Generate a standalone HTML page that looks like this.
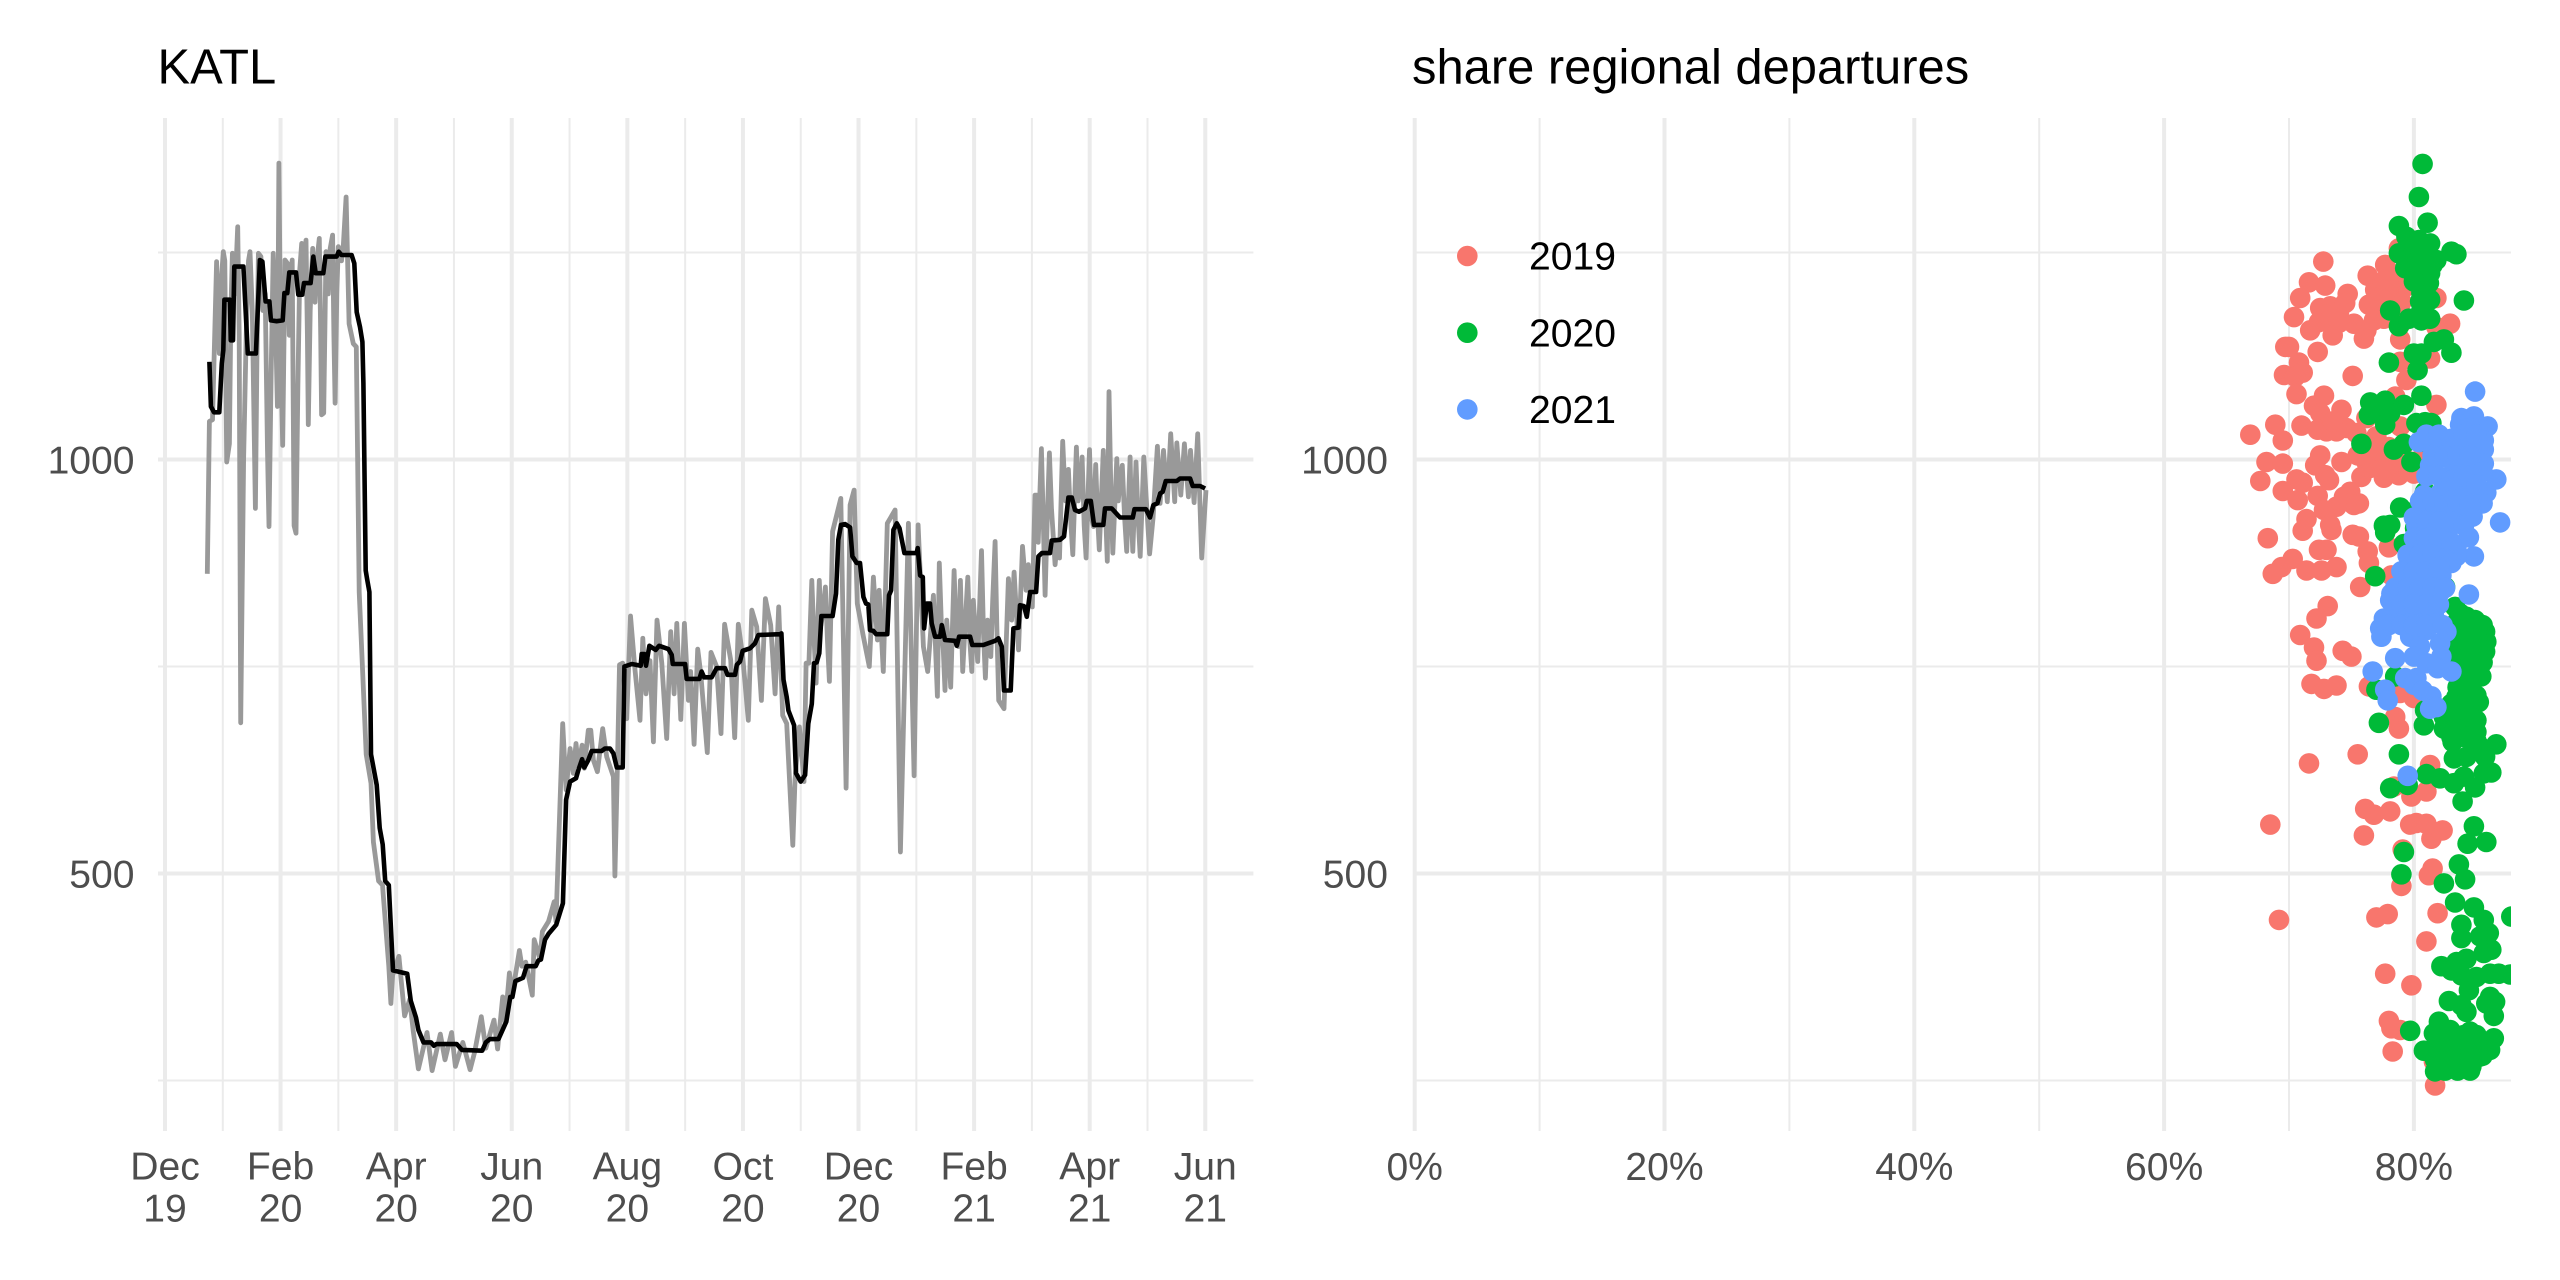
<!DOCTYPE html>
<html lang="en">
<head>
<meta charset="utf-8">
<title>KATL departures and share of regional departures</title>
<style>
html,body{margin:0;padding:0;background:#fff;width:2560px;height:1280px;overflow:hidden}
svg{display:block;font-family:"Liberation Sans",Arial,sans-serif}
</style>
</head>
<body>
<svg id="chart" xmlns="http://www.w3.org/2000/svg" width="2560" height="1280" viewBox="0 0 2560 1280">
<defs><clipPath id="right-clip"><rect x="1414" y="118" width="1097" height="1013"/></clipPath></defs>
<rect x="0" y="0" width="2560" height="1280" fill="#fff"/>
<g id="left-panel"></g>
<g id="right-panel"></g>
</svg>
<script>
const tickMonths = ['Dec','Feb','Apr','Jun','Aug','Oct','Dec','Feb','Apr','Jun'];
const tickYears = ['19','20','20','20','20','20','20','21','21','21'];
const yMajorTicks = [500,1000];
const yMinorTicks = [250,750,1250];
const shareMajorTicks = [0,20,40,60,80];
const shareMinorTicks = [10,30,50,70];
const legendYears = ['2019','2020','2021'];

const grayDaysWinter = [22.3,23.4,25,27.2,27.9,28.6,29.6,30.7,31.5,32.5,33.9,34.7,35.5,36.8,38.3,39.1,39.9,41.4,42.8,44,44.8,46,47.6,48.4,49.2,50.5,51.5,52.8,54,54.8,55.9,57,58,59.2,60,61,62,63.2,64.5,65.5,66.2,67,68,69,70,71,72,73,74.3,75,75.5,76.5,77.8,79,80,81.3,82,82.5,83.6,84.8,86,87,88.3,89,89.6,90.5,91.3,93,94,95.4];
const grayValuesWinter = [862,1046,1048,1239,1170,1128,1215,1251,1240,997,1019,1180,1249,1200,1281,1150,682,1000,1150,1240,1251,1180,941,1120,1249,1245,1180,1200,1010,919,1100,1249,1190,1064,1358,1120,1017,1241,1237,1150,1220,1241,920,911,1090,1230,1261,1200,1265,1150,1042,1180,1255,1190,1240,1267,1150,1054,1056,1251,1200,1255,1271,1150,1068,1200,1257,1240,1260,1317];

const grayDaysMiddle = [97,99.2,100.8,102.3,106,108.5,109.8,112.5,114.6,117.9,119,119.9,123.2,126.2,128.9,130.8,133.5,138,140.7,145,147.5,151,153,156.9,160.7,163.1,166.6,169,173.3,175.2,177.9,179.2,181.4,183,186.7,188,190,193.5,194.5,197.5,198.8,202,205,206,209.5,211.3,213.4,215.1,216.5,217.8,219.7,220.9,223,224.3,225.7,227.8,230.6,232.7,236.2,237,238.3,239.4,241.1,243.2,245.2,247.6,250.2,251.7,253.4,255.5,257.3,259.2,261.7,264.3,266.4,268.2,269.6,271.7,273.6,275.7,276.9,278.7,280.6,282.2,285.7,287.6,290.6,292.9,294.8,298,300.1,302,304.3,307.3,309.1,311.7,314.2,316.3,319.1,321.4,323.3,325.4,327.5,330.7,331.9,334.2,336.6,337.7,339.2];
const grayValuesMiddle = [1164,1140,1136,840,644,609,538,491,486,388,343,377,400,328,348,309,264,308,262,306,275,308,267,296,263,284,327,289,323,288,351,321,380,355,407,388,393,353,420,397,430,442,466,442,681,601,651,621,657,629,655,627,673,673,637,623,675,641,617,497,629,752,754,687,811,746,685,784,717,757,659,806,754,663,792,717,802,686,802,709,744,656,771,742,646,767,750,669,801,758,664,801,762,685,818,798,709,832,800,717,822,691,681,534,613,677,611,754,754];

const grayDaysAutumn = [340.7,341.8,343,344,344.7,345.5,346.5,347.9,349,350,351.7,356,358.8,360.9,363,364.7,367.9,371,373.2,375.3,376.2,378.4,380.5,384.6,387.4,391.6,394.6,396.7,399.5,401.8,404.8];
const grayValuesAutumn = [854,790,730,810,854,800,814,846,780,732,913,953,603,945,963,826,786,750,858,782,842,744,923,939,526,923,618,921,774,744,836];

const grayDaysSpring = [405.8,406.9,407.9,409,410,410.9,411.8,412.8,413.9,415.7,416.8,418,419,420.2,421.5,422.9,424,425,425.8,427,428.1,430.1,431.2,432.2,433.3,435,436,437.3,438.2,439.2,442,444.3,446,447.3,449.6,451.7,453.6,454.8,456.9];
const grayValuesSpring = [780,714,875,800,770,721,806,770,725,866,790,774,854,744,800,858,780,744,830,790,756,890,790,736,806,762,830,901,800,709,699,856,806,864,770,895,842,873,822];

const grayDaysFinal = [458.3,459.2,460,461.7,462.6,463.6,464.8,465.9,467,468.9,470,471.2,472.9,474.3,475.9,477,478.2,480.1,481,482,483.1,484.2,485.2,487,488,489.1,490.3,491.3,492.2,494.3,495.3,496.4,497.3,498.3,499.3,501.4,502.2,503.1,504.3,505.5,506.6,508.4,509.1,509.8,511.5,512.6,513.7,515.6,517,518.7,520.5,522.8,524.2,526,528,529.8,531.9,533,535.1,537,539.1,540.2,542.1,544,546.1,548.4];
const grayValuesFinal = [957,957,900,1013,930,836,930,1008,940,873,900,881,1022,950,988,930,885,1015,950,963,1003,920,881,1012,930,919,994,930,891,1011,950,877,1082,960,887,1001,950,975,993,930,889,1003,930,889,997,930,883,1003,950,886,930,1016,947,1011,949,1031,949,1020,957,1019,955,1011,948,1031,881,963];

const blackDays = [23.4,24.2,25.8,28.6,29.9,30.7,31.3,34.2,34.6,35.8,36.5,41.3,43.6,47.9,50,51.3,53,55,55.8,58.8,62,62.9,64.4,65.5,69,70.2,72.3,73.2,76.7,78.1,79.4,83.4,84.5,90.4,91.5,93,98.3,99.7,101,102.7,104,104.5,105.7,106.5,107.7,108.5,111.5,113.1,114.7,116,117.9,120.1,127.6,129.5,132.2,133.5,136.2,140.2,141.6,142.9,153.7,156.4,167.1,169,171.1,175.7,179.8,181.9,183,184.6,188.6,190.5,195.3,196.7,198,200.2,202,206.1,209.6,211.3,213.4,216.5,217.8,219.7,220.9,223,224.8,230,231.8,234.4,236.2,238,241.1,242,245.9,250.6,251.1,252.5,253.4,255.2,258.5,260.3,265.2,266.9,267.5,274,274.8,281.5,282.7,284,288,290.6,295,296.3,300.3,301.2,302.9,304.3,308.2,310.8,312.6,324,324.7,325.8,327.5,328.4,331.4,332.4,334.9,337.2,338.9,340.7,341.9,343.3,344.7,345.8,351.7,353.5,354.7,356.1,358.2,360.9,362.1,364.4,366.1,367.9,369.3,370.5,371.4,373.2,374.6,380.5,381.4,382.5,383.7,385.5,386.9,389.5,396,396.5,397.8,399.2,399.9,401.3,403,403.9,405.7,408.3,409.2,410.9,416.2,417.1,418.3,424.1,425.3,431.1,437.3,439,440.8,442,445.5,446.9,449.6,450.4,452.5,454,455.7,458.9,460.1,461.9,466.2,467.1,471.5,473.6,475.9,477.7,479.4,481.5,484.7,485.6,487.7,489.4,494.3,495.2,498.7,503.1,509.8,510.7,516.8,518.9,520.7,522.8,524.2,525.6,527.2,533,534.7,540,541.4,545.3,547.9];
const blackValues = [1118,1064,1057,1057,1116,1132,1193,1193,1144,1144,1233,1233,1128,1128,1241,1239,1191,1191,1168,1167,1168,1201,1201,1226,1226,1199,1199,1213,1213,1245,1225,1225,1245,1245,1251,1247,1247,1237,1178,1160,1142,1092,866,855,840,644,607,555,535,491,486,383,379,346,326,311,296,296,292,294,294,287,286,296,300,300,321,351,351,370,374,388,388,395,396,420,427,438,464,589,611,615,625,638,628,637,648,648,651,651,645,628,628,750,753,751,765,765,751,775,770,775,771,764,753,753,735,735,744,737,737,748,748,740,740,752,756,769,772,778,788,789,790,734,713,697,679,621,611,619,681,705,754,755,766,811,811,838,903,921,922,918,883,875,875,834,826,825,794,793,789,789,836,842,915,923,917,887,887,893,860,858,796,826,826,802,786,786,800,782,781,775,786,786,776,776,781,784,774,721,721,796,797,824,823,810,840,840,883,887,887,902,903,907,954,954,939,937,941,950,950,921,921,941,941,930,930,940,940,930,945,947,959,961,974,974,977,977,968,968,965];

const share2019 = [72.75,71.6,72.9,70.9,70.4,71.7,72.4,73.2,72.5,73.3,74,74.7,74.5,75.2,76,76.2,76.3,77.7,78.8,76.9,76.4,76.8,77.6,78.3,79.4,78.9,81.8,82.9,81.8,78.9,81.3,69.7,70,72.3,70.8,69.6,71.1,70.5,70.6,75.1,79.4,78.9,81.8,78.5,72.8,72,74.2,72.5,68.9,66.9,69.5,71,72.3,73,73.8,74.6,73.5,75.4,76.2,77,78.9,77.3,68.2,69.5,67.7,72.5,72.1,74.2,76.2,72.9,73.2,70.6,71.1,69.5,70.7,72.3,75.8,77.6,78.8,80,74.9,74.4,75.6,75.2,73.8,72.8,71.4,71.1,73.4,73.3,68.3,75.1,75.6,76.3,76.4,78,72.4,73,70.3,69.4,68.7,71.4,72.6,73.8,78.2,75.7,73.1,72.2,70.9,72,72.2,74.3,75,71.8,72.8,73.8,76.4,80,78.9,78.5,78.8,75.5,71.6,81.3,78.4,79.8,81,76.1,76.8,78.1,79.7,80.2,81,68.5,76,82.3,81.4,79.1,81.5,81.2,79,81.9,77.9,77,69.2,81,77.7,79.8,78,78.2,78.9,78.3,81.6,81.7,77.5,78.5,79.5,77,78,79,77,78,79,76,77,78,79,80.5,75.5,76.5,77.5,78.5,73,74,73.5];
const flights2019 = [1239,1214,1210,1195,1172,1156,1166,1166,1183,1185,1178,1200,1189,1164,1146,1156,1222,1235,1255,1205,1187,1168,1170,1205,1209,1193,1195,1164,1160,1145,1122,1136,1136,1130,1117,1102,1105,1100,1079,1101,1096,1118,1066,1076,1077,1065,1060,1056,1042,1030,1023,1041,1036,1034,1034,1038,1046,1032,1050,1028,1040,1011,997,995,974,1005,993,997,997,981,975,976,972,962,951,956,979,978,981,983,961,955,947,945,943,939,928,914,915,921,905,909,907,889,875,894,891,891,880,870,862,866,866,870,860,846,823,808,788,773,757,769,762,729,723,727,726,712,718,689,675,644,633,631,605,593,599,578,571,575,559,561,560,559,546,552,542,529,506,498,485,452,451,447,444,418,379,365,322,313,311,285,273,244,1215,1220,1225,1195,1195,1190,1180,1175,1165,1020,1015,1015,1010,1000,1005,990,990,995,1175,1165,1150];

const share2020 = [80.7,80.4,81.1,78.8,79.4,80.4,81.3,78.8,80,81,81.8,83,83.4,79.3,80.2,81.3,80.4,81.2,80.6,81.3,80.5,84,78.1,79.6,78.8,80.6,81.3,81.6,82.4,83,80,80.6,78,80.3,80.6,76.5,77.7,79.2,77.2,76.4,78.1,77.7,80.2,80.9,81.4,75.8,79.2,78.4,81.2,79.8,78.9,80.9,80.2,77.6,78.1,77.7,80.1,79.2,76.9,79.3,82.5,83.3,84.9,83.7,85.7,85.8,85.7,84.2,84.2,84,83.4,83.2,84.2,85.4,83.4,84.2,85.2,83.4,84.2,85,82.4,80.8,82.4,83.7,85,83.1,84.2,85.3,86.6,83.2,84.2,85.7,86.2,81,82.1,83.2,84,84.9,85.6,83.9,79.5,78.1,78.8,77.2,77,78.5,80.9,84.8,84.3,85.8,79.2,83.6,84.1,82.4,79,83.3,84.8,85.6,87.8,83.8,83.8,86,85.3,86.2,85.6,84.2,83.4,82.2,83,83.8,85,86.1,86.8,87.7,84.4,82.8,83.8,84.2,86.1,86.5,85.8,86.4,79.7,86.4,82,81.6,82.9,84.5,83.7,85,80.8,82.1,82.9,84.2,86.1,85.3,81.7,83,84.1,84.6,82.4,83.4,81.7,83.5,84.5,85.5,83,84,85,83.5,84.5,85.5,83,84,85,83.5,84.5,83,84,85,82.5,83.5,84.5,83,84,85,82,83,84,85,82.5,83.5,84.5,85.5,82.5,83.5,84.5,83,84,80,80.8,81.5,80.3,81,80,80.6];
const flights2020 = [1357,1317,1286,1282,1269,1265,1261,1249,1249,1249,1241,1251,1248,1231,1233,1225,1225,1213,1201,1193,1191,1192,1180,1170,1161,1168,1170,1142,1145,1129,1128,1128,1117,1108,1077,1069,1071,1066,1064,1054,1056,1042,1044,1045,1044,1019,1019,1012,1019,997,942,961,939,920,921,912,917,898,859,860,846,822,806,814,792,780,768,810,790,770,798,774,750,738,742,726,707,713,701,685,689,679,675,681,671,659,665,653,656,639,641,641,622,620,615,609,617,604,621,587,607,603,644,682,722,738,697,557,536,538,526,511,493,488,499,465,459,444,448,438,422,428,424,408,404,397,393,388,383,377,375,379,379,378,359,346,341,333,351,345,343,328,310,301,321,307,311,309,299,299,286,291,283,287,287,279,261,269,265,267,303,279,275,805,805,800,785,785,785,765,765,755,745,745,745,725,725,705,705,715,690,690,690,665,665,660,305,305,305,305,280,280,280,280,262,262,262,295,295,1255,1255,1235,1240,1235,1215,1180];

const share2021 = [84.9,83.8,84.8,85.9,83.7,84.5,80.4,82.6,81.6,85.6,85.6,84.2,81.3,82.4,84,85.6,83.2,85,86.6,82.4,84,85.8,80.8,82.1,83.4,84.6,85.5,81.6,80.5,82.6,84,84.7,86.9,80.2,81.6,82.9,84.4,80.5,82.1,83.4,84.8,79.5,81,83.4,80.5,79.3,82.2,81,84.4,78.2,82.1,78.1,79.4,80.8,81,78.9,77.6,78.2,79.9,81.6,78.6,77.3,77.8,77.4,79.7,81,82.6,82.1,80.5,78.5,80,82.2,81,81.9,83,76.7,79.3,80.2,80,80.7,77.7,77.9,81.4,81.3,81.8,79.5,81,82,83,84,85,81.5,82.5,83.5,84.5,85.5,81,82,83,84,85,80.5,81.5,82.5,83.5,84.5,80,81,82,83,84,80,81,82,83,79.5,80.5,81.5,82.5,83,79,80,81,82,78.5,79.5,80.5,81.5,82.5,79,80,81,82,78,79,80,81,82.3];
const flights2021 = [1082,1050,1052,1040,1042,1038,1021,1015,1011,1023,1012,1019,993,1003,1001,995,987,983,976,977,971,960,957,959,955,955,947,939,929,939,939,931,924,920,919,919,906,901,899,893,883,884,883,883,870,858,860,858,837,838,840,830,838,834,818,814,808,828,822,812,808,796,800,786,786,794,792,778,774,760,762,762,754,748,744,744,736,736,728,721,722,709,714,699,701,618,1030,1030,1025,1030,1030,1005,1005,1005,1005,985,980,980,975,980,970,950,950,945,945,945,930,925,925,925,920,905,905,905,900,885,885,885,880,875,865,865,865,870,845,845,845,845,845,825,825,825,825,800,800,800,800,800];

const svgNS = 'http://www.w3.org/2000/svg';
const left = document.getElementById('left-panel');
const right = document.getElementById('right-panel');

const panelTop = 118, panelBottom = 1131;
const leftX0 = 158, leftX1 = 1253.4;
const rightX0 = 1414, rightX1 = 2511;
const monthSpan = 30.445;

function yScale(v){ return 459.5 + (1000 - v) * 0.828; }
function xDay(d){ return 165 + d * 1.8983; }
function xShare(p){ return 1414.7 + p * 12.49; }

function make(tag, attrs, parent){
  const el = document.createElementNS(svgNS, tag);
  for (const k in attrs) el.setAttribute(k, attrs[k]);
  parent.appendChild(el);
  return el;
}
function gridLine(parent, x1, y1, x2, y2, w, name){
  const el = make('line', {x1:x1, y1:y1, x2:x2, y2:y2, stroke:'#ebebeb', 'stroke-width':w}, parent);
  
  
}
function label(parent, x, y, str, anchor, size, fill, name){
  const el = make('text', {x:x, y:y, 'text-anchor':anchor, 'font-size':size, fill:fill}, parent);
  el.textContent = str;
  
  
}

const MAJOR = 4, MINOR = 2, AXIS = 39.1, TITLE = 48.9;

/* ---------- left panel ---------- */
yMinorTicks.forEach(v => gridLine(left, leftX0, yScale(v), leftX1, yScale(v), MINOR, 'y-minor-gridline'));
yMajorTicks.forEach(v => gridLine(left, leftX0, yScale(v), leftX1, yScale(v), MAJOR, 'y-major-gridline'));
tickMonths.forEach((m, i) => {
  const day = i * 2 * monthSpan;
  gridLine(left, xDay(day), panelTop, xDay(day), panelBottom, MAJOR, 'x-major-gridline');
  if (i < tickMonths.length - 1) {
    gridLine(left, xDay(day + monthSpan), panelTop, xDay(day + monthSpan), panelBottom, MINOR, 'x-minor-gridline');
  }
  label(left, xDay(day), 1179.5, m, 'middle', AXIS, '#4d4d4d', 'x-tick-month');
  label(left, xDay(day), 1221.5, tickYears[i], 'middle', AXIS, '#4d4d4d', 'x-tick-year');
});
yMajorTicks.forEach(v => label(left, 134.5, yScale(v) + 14, String(v), 'end', AXIS, '#4d4d4d', 'y-tick-label'));
label(left, 157.5, 83.5, 'KATL', 'start', TITLE, '#000', 'left-panel-title');

function pathFrom(days, values){
  return days.map((d, i) => (i ? 'L' : 'M') + xDay(d).toFixed(1) + ' ' + yScale(values[i]).toFixed(1)).join('');
}
const grayDays = grayDaysWinter.concat(grayDaysMiddle, grayDaysAutumn, grayDaysSpring, grayDaysFinal);
const grayValues = grayValuesWinter.concat(grayValuesMiddle, grayValuesAutumn, grayValuesSpring, grayValuesFinal);
const grayLine = make('path', {d:pathFrom(grayDays, grayValues), fill:'none', stroke:'#999999', 'stroke-width':4.8, 'stroke-linejoin':'round', 'stroke-linecap':'butt'}, left);


const blackLine = make('path', {d:pathFrom(blackDays, blackValues), fill:'none', stroke:'#000000', 'stroke-width':4.6, 'stroke-linejoin':'round', 'stroke-linecap':'butt'}, left);



/* ---------- right panel ---------- */
yMinorTicks.forEach(v => gridLine(right, rightX0, yScale(v), rightX1, yScale(v), MINOR, 'y-minor-gridline'));
yMajorTicks.forEach(v => gridLine(right, rightX0, yScale(v), rightX1, yScale(v), MAJOR, 'y-major-gridline'));
shareMinorTicks.forEach(p => gridLine(right, xShare(p), panelTop, xShare(p), panelBottom, MINOR, 'x-minor-gridline'));
shareMajorTicks.forEach(p => {
  gridLine(right, xShare(p), panelTop, xShare(p), panelBottom, MAJOR, 'x-major-gridline');
  label(right, xShare(p), 1180, p + '%', 'middle', AXIS, '#4d4d4d', 'x-tick-label');
});
yMajorTicks.forEach(v => label(right, 1388, yScale(v) + 14, String(v), 'end', AXIS, '#4d4d4d', 'y-tick-label'));
label(right, 1412, 83.5, 'share regional departures', 'start', TITLE, '#000', 'right-panel-title');

const pointGroup = make('g', {'clip-path':'url(#right-clip)'}, right);



function drawPoints(shares, flights, color, name){
  shares.forEach((s, i) => {
    const c = make('circle', {cx:xShare(s).toFixed(1), cy:yScale(flights[i]).toFixed(1), r:10.3, fill:color}, pointGroup);
    
    
  });
}
drawPoints(share2019, flights2019, '#F8766D', 'point-2019');
drawPoints(share2020, flights2020, '#00BA38', 'point-2020');
drawPoints(share2021, flights2021, '#619CFF', 'point-2021');

const legendColors = ['#F8766D','#00BA38','#619CFF'];
const legendGroup = make('g', {}, right);


legendYears.forEach((yr, i) => {
  const cy = 256 + i * 76.7;
  const dot = make('circle', {cx:1467.3, cy:cy, r:10.3, fill:legendColors[i]}, legendGroup);
  
  
  label(legendGroup, 1529, cy + 13.6, yr, 'start', AXIS, '#000', 'legend-label');
});
</script>
</body>
</html>
